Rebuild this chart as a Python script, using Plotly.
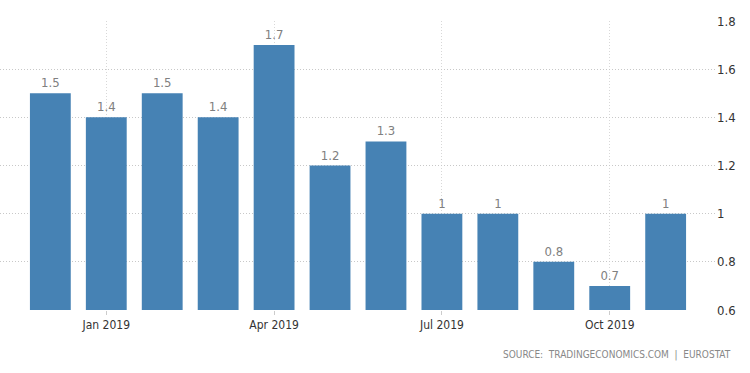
import plotly.graph_objects as go

months = ["Dec 2018", "Jan 2019", "Feb 2019", "Mar 2019", "Apr 2019", "May 2019",
          "Jun 2019", "Jul 2019", "Aug 2019", "Sep 2019", "Oct 2019", "Nov 2019"]
values = [1.5, 1.4, 1.5, 1.4, 1.7, 1.2, 1.3, 1.0, 1.0, 0.8, 0.7, 1.0]
labels = ["1.5", "1.4", "1.5", "1.4", "1.7", "1.2", "1.3", "1", "1", "0.8", "0.7", "1"]
tick_months = ["Jan 2019", "Apr 2019", "Jul 2019", "Oct 2019"]
y_ticks = [0.6, 0.8, 1.0, 1.2, 1.4, 1.6, 1.8]
y_tick_text = ["0.6", "0.8", "1", "1.2", "1.4", "1.6", "1.8"]
source_text = "SOURCE:  TRADINGECONOMICS.COM  |  EUROSTAT"

font_family = "DejaVu Sans Condensed, DejaVu Sans, sans-serif"

fig = go.Figure(go.Bar(
    x=months, y=[v - 0.6 for v in values], base=0.6,
    marker=dict(color="#4682B4", line=dict(width=0)),
    text=labels, textposition="outside", cliponaxis=False,
    textfont=dict(color="#808080", size=13, family=font_family),
    hoverinfo="skip",
))

fig.update_layout(
    width=750, height=373,
    margin=dict(l=0, r=34, t=21, b=63, autoexpand=False),
    paper_bgcolor="white", plot_bgcolor="white",
    bargap=0.27, showlegend=False,
    font=dict(family=font_family, size=12, color="#333333"),
    xaxis=dict(
        type="category", range=[-0.9, 11.9], automargin=False,
        tickmode="array", tickvals=tick_months, ticktext=tick_months,
        showgrid=True, gridcolor="#d8d8d8", griddash="1px,2px", gridwidth=1,
        ticks="outside", ticklen=4, tickcolor="#cccccc",
        showline=False, zeroline=False,
        tickfont=dict(size=12, color="#333333"),
    ),
    yaxis=dict(
        side="right", range=[0.6, 1.8], automargin=False,
        tickmode="array", tickvals=y_ticks, ticktext=y_tick_text,
        showgrid=True, gridcolor="#c8c8c8", griddash="1px,2px", gridwidth=1,
        zeroline=False, showline=False, ticks="",
        tickfont=dict(size=13, color="#333333"),
    ),
    annotations=[dict(
        text=source_text, xref="paper", yref="paper",
        x=733 / 716, y=-0.155, xanchor="right", yanchor="middle",
        showarrow=False, font=dict(size=10, color="#888888", family=font_family),
    )],
)

fig.write_html("out.html", config={"displayModeBar": False, "staticPlot": True},
               post_script="document.body.style.margin='0';")
